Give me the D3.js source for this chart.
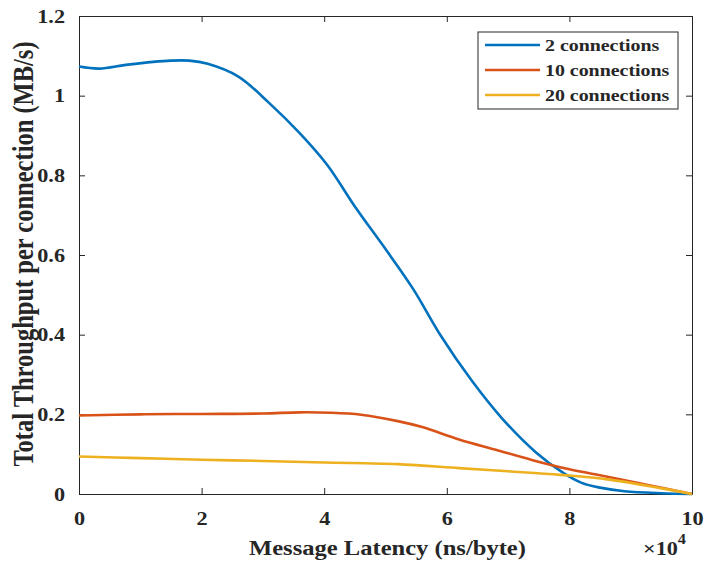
<!DOCTYPE html>
<html>
<head>
<meta charset="utf-8">
<script src="https://cdn.jsdelivr.net/npm/d3@7"></script>
<style>
	body { margin: 0; background: #fff; }
	text { font-family: "Liberation Serif", "Times New Roman", serif; font-weight: bold; fill: #262626; }
</style>
</head>
<body>
<svg id="chart" width="705" height="564"></svg>
<script>
// latency in units of 1e4 ns/byte, throughput in MB/s
var latency2 = [0, 0.33, 0.8, 1.5, 1.8, 2.1, 2.6, 3.1, 3.6, 4.05, 4.5, 5.0, 5.45, 5.9, 6.4, 6.9, 7.45, 7.9, 8.2, 8.5, 8.9, 9.5, 10];
var throughput2 = [1.073, 1.068, 1.078, 1.088, 1.088, 1.080, 1.048, 0.982, 0.906, 0.826, 0.722, 0.615, 0.515, 0.398, 0.286, 0.190, 0.105, 0.053, 0.028, 0.016, 0.007, 0.002, 0.0];

var latency10 = [0, 1, 2, 3, 3.6, 4.1, 4.6, 5.2, 5.6, 6.2, 6.8, 7.4, 8.0, 8.6, 9.3, 10];
var throughput10 = [0.197, 0.200, 0.201, 0.202, 0.205, 0.204, 0.199, 0.183, 0.168, 0.137, 0.111, 0.085, 0.062, 0.044, 0.022, 0.0];

var latency20 = [0, 1, 2, 3, 4, 5.2, 6.2, 7.0, 7.85, 8.65, 10];
var throughput20 = [0.094, 0.090, 0.086, 0.083, 0.079, 0.075, 0.065, 0.057, 0.048, 0.036, 0.0];

var seriesNames = ["2 connections", "10 connections", "20 connections"];
var seriesColors = ["#0072BD", "#D95319", "#EDB120"];
var xTicks = [0, 2, 4, 6, 8, 10];
var yTicks = [0, 0.2, 0.4, 0.6, 0.8, 1, 1.2];

var series = [
	{name: seriesNames[0], color: seriesColors[0], x: latency2, y: throughput2},
	{name: seriesNames[1], color: seriesColors[1], x: latency10, y: throughput10},
	{name: seriesNames[2], color: seriesColors[2], x: latency20, y: throughput20}
];

var plotLeft = 79, plotRight = 692, plotTop = 16, plotBottom = 494;
var stretch = 1.17; // the reference text is a bit wider than liberation serif
var svg = d3.select("#chart");

var x = d3.scaleLinear().domain([0, 10]).range([plotLeft, plotRight]);
var y = d3.scaleLinear().domain([0, 1.2]).range([plotBottom, plotTop]);

// inward ticks on all four sides, like matlab "box on"
var tickLen = 6;
svg.append("g").attr("transform", "translate(0," + plotBottom + ")")
	.call(d3.axisBottom(x).tickValues(xTicks).tickSizeInner(-tickLen).tickSizeOuter(0).tickPadding(18).tickFormat(d3.format("d")))
	.call(styleAxis);
svg.append("g").attr("transform", "translate(0," + plotTop + ")")
	.call(d3.axisTop(x).tickValues(xTicks).tickSizeInner(-tickLen).tickSizeOuter(0).tickFormat(""))
	.call(styleAxis);
svg.append("g").attr("transform", "translate(" + plotLeft + ",0)")
	.call(d3.axisLeft(y).tickValues(yTicks).tickSizeInner(-tickLen).tickSizeOuter(0).tickPadding(14).tickFormat(function(d){ return String(+d.toFixed(1)); }))
	.call(styleAxis);
svg.append("g").attr("transform", "translate(" + plotRight + ",0)")
	.call(d3.axisRight(y).tickValues(yTicks).tickSizeInner(-tickLen).tickSizeOuter(0).tickFormat(""))
	.call(styleAxis);

function styleAxis(g){
	g.select(".domain").attr("stroke", "#262626").attr("stroke-width", 1);
	g.selectAll(".tick line").attr("stroke", "#262626");
	g.selectAll(".tick text").attr("font-size", 19).attr("font-family", "Liberation Serif").attr("font-weight", "bold").attr("fill", "#262626")
		.each(widen);
}

// stretch a text sideways around its anchor point
function widen(){
	var t = d3.select(this);
	var tx = +t.attr("x") || 0, ty = +t.attr("y") || 0;
	t.attr("transform", "translate(" + tx + "," + ty + ") scale(" + stretch + ",1) translate(" + (-tx) + "," + (-ty) + ")");
}

// the curves
var line = d3.line().curve(d3.curveCatmullRom.alpha(0.5))
	.x(function(d){ return x(d[0]); })
	.y(function(d){ return y(d[1]); });

series.forEach(function(s){
	svg.append("path")
		.datum(d3.zip(s.x, s.y))
		.attr("d", line)
		.attr("fill", "none")
		.attr("stroke", s.color)
		.attr("stroke-width", 2.6);
});

// axis labels
svg.append("text")
	.attr("x", (plotLeft + plotRight) / 2 + 2)
	.attr("y", 555)
	.attr("text-anchor", "middle")
	.attr("font-size", 21)
	.text("Message Latency (ns/byte)")
	.each(widen);

var expo = svg.append("text").attr("x", 643).attr("y", 555).attr("font-size", 19);
expo.append("tspan").text("\u00d710");
expo.append("tspan").attr("dy", -11).attr("font-size", 14).text("4");
expo.each(widen);

svg.append("text")
	.attr("transform", "translate(33,254) scale(" + stretch + ",1) rotate(-90)")
	.attr("text-anchor", "middle")
	.attr("font-size", 24.5)
	.text("Total Throughput per connection (MB/s)");

// legend
var legend = svg.append("g");
legend.append("rect")
	.attr("x", 478).attr("y", 32).attr("width", 200).attr("height", 77)
	.attr("fill", "#fff").attr("stroke", "#262626").attr("stroke-width", 1);

series.forEach(function(s, i){
	var ly = 45 + i * 25;
	legend.append("line")
		.attr("x1", 485).attr("x2", 540).attr("y1", ly).attr("y2", ly)
		.attr("stroke", s.color).attr("stroke-width", 2.6);
	legend.append("text")
		.attr("x", 545).attr("y", ly + 6)
		.attr("font-size", 17)
		.text(s.name)
		.each(widen);
});
</script>
</body>
</html>
